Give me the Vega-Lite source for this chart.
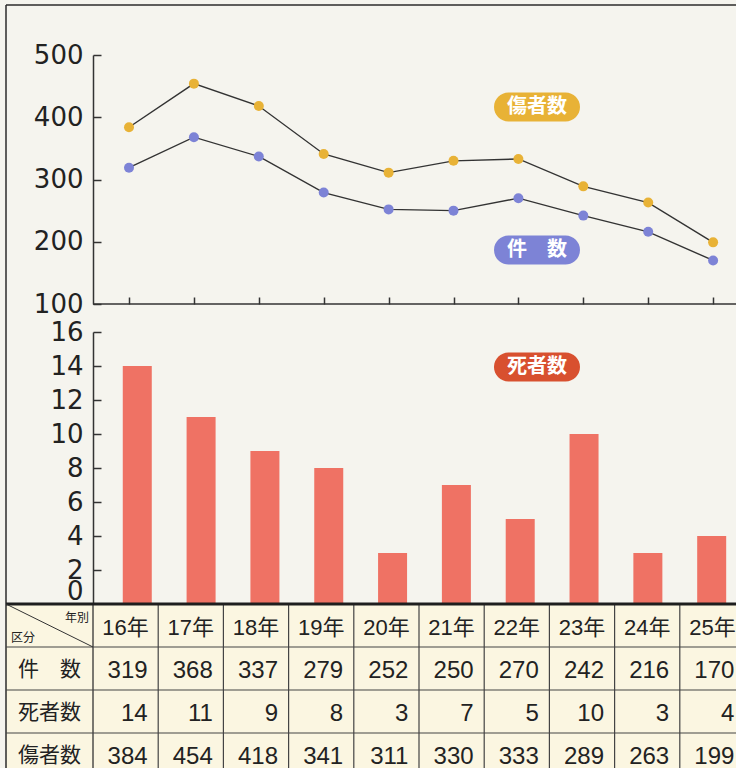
{
  "$schema": "https://vega.github.io/schema/vega-lite/v6.json",
  "background": "#F5F4EE",
  "padding": {"left": 4, "top": 4, "right": 0, "bottom": 0},
  "width": 739,
  "height": 771,
  "datasets": {
    "d": [
      {"yr": 16, "label": "16年", "cases": 319, "deaths": 14, "injured": 384},
      {"yr": 17, "label": "17年", "cases": 368, "deaths": 11, "injured": 454},
      {"yr": 18, "label": "18年", "cases": 337, "deaths": 9, "injured": 418},
      {"yr": 19, "label": "19年", "cases": 279, "deaths": 8, "injured": 341},
      {"yr": 20, "label": "20年", "cases": 252, "deaths": 3, "injured": 311},
      {"yr": 21, "label": "21年", "cases": 250, "deaths": 7, "injured": 330},
      {"yr": 22, "label": "22年", "cases": 270, "deaths": 5, "injured": 333},
      {"yr": 23, "label": "23年", "cases": 242, "deaths": 10, "injured": 289},
      {"yr": 24, "label": "24年", "cases": 216, "deaths": 3, "injured": 263},
      {"yr": 25, "label": "25年", "cases": 170, "deaths": 4, "injured": 199}
    ],
    "rows": [
      {"key": "cases", "name": "件　数", "r": 1},
      {"key": "deaths", "name": "死者数", "r": 2},
      {"key": "injured", "name": "傷者数", "r": 3}
    ]
  },
  "resolve": {"scale": {"x": "independent", "y": "independent"}},
  "layer": [
    {
      "data": {"values": [{}]},
      "mark": {"type": "rect", "color": "#FBF6E1"},
      "encoding": {
        "x": {"datum": 14.1656, "scale": {"domain": [14.1656, 25.5], "nice": false, "zero": false}, "axis": null},
        "x2": {"datum": 26},
        "y": {"datum": 0, "scale": {"domain": [0, 4], "range": [599, 771], "nice": false, "zero": false}, "axis": null},
        "y2": {"datum": 4.2}
      }
    },
    {
      "data": {"values": [{}]},
      "mark": {"type": "rule", "color": "#2b2b2b", "strokeWidth": 1.5},
      "encoding": {
        "x": {"datum": 14.1656, "scale": {"domain": [14.1656, 25.5], "nice": false, "zero": false}, "axis": null},
        "y": {"datum": -13.93, "scale": {"domain": [0, 4], "range": [599, 771], "nice": false, "zero": false}, "axis": null},
        "y2": {"datum": 4.2}
      }
    },
    {
      "data": {"values": [{}]},
      "mark": {"type": "rule", "color": "#2b2b2b", "strokeWidth": 1.5},
      "encoding": {
        "x": {"datum": 14.1656, "scale": {"domain": [14.1656, 25.5], "nice": false, "zero": false}, "axis": null},
        "x2": {"datum": 26},
        "y": {"datum": -13.93, "scale": {"domain": [0, 4], "range": [599, 771], "nice": false, "zero": false}, "axis": null}
      }
    },
    {
      "data": {"name": "d"},
      "transform": [{"fold": ["cases", "injured"], "as": ["key", "value"]}],
      "mark": {"type": "line", "color": "#333333", "strokeWidth": 1.4},
      "encoding": {
        "x": {
          "field": "yr", "type": "quantitative",
          "scale": {"domain": [14.1048, 25.4915], "nice": false, "zero": false},
          "axis": {"orient": "bottom", "offset": -472, "values": [16, 17, 18, 19, 20, 21, 22, 23, 24, 25], "labels": false, "domain": false, "tickSize": -7, "grid": false, "title": null}
        },
        "y": {
          "field": "value", "type": "quantitative",
          "scale": {"domain": [100, 500], "range": [299, 50], "nice": false, "zero": false},
          "axis": {"orient": "left", "offset": -87, "values": [100, 200, 300, 400, 500], "tickSize": -8, "labelPadding": 18, "labelFontSize": 26, "labelOverlap": false, "grid": false, "title": null}
        },
        "detail": {"field": "key", "type": "nominal"}
      }
    },
    {
      "data": {"values": [{}]},
      "mark": {"type": "rule", "color": "#333333", "strokeWidth": 1.5},
      "encoding": {
        "x": {"datum": 15.4453, "scale": {"domain": [14.1048, 25.4915], "nice": false, "zero": false}, "axis": null},
        "x2": {"datum": 26},
        "y": {"datum": 100, "scale": {"domain": [100, 500], "range": [299, 50], "nice": false, "zero": false}, "axis": null}
      }
    },
    {
      "data": {"name": "d"},
      "transform": [{"fold": ["cases", "injured"], "as": ["key", "value"]}],
      "mark": {"type": "point", "filled": true, "size": 100, "opacity": 1},
      "encoding": {
        "x": {"field": "yr", "type": "quantitative", "scale": {"domain": [14.1048, 25.4915], "nice": false, "zero": false}, "axis": null},
        "y": {"field": "value", "type": "quantitative", "scale": {"domain": [100, 500], "range": [299, 50], "nice": false, "zero": false}, "axis": null},
        "color": {"field": "key", "type": "nominal", "scale": {"domain": ["cases", "injured"], "range": ["#7D83D6", "#E8B236"]}, "legend": null}
      }
    },
    {
      "data": {"values": [{}]},
      "mark": {"type": "point", "shape": "M -0.663 -0.337 L 0.663 -0.337 A 0.337 0.337 0 0 1 0.663 0.337 L -0.663 0.337 A 0.337 0.337 0 0 1 -0.663 -0.337 Z", "size": 7396, "filled": true, "opacity": 1, "color": "#E8B236"},
      "encoding": {
        "x": {"datum": 22.2866, "scale": {"domain": [14.1048, 25.4915], "nice": false, "zero": false}, "axis": null},
        "y": {"datum": 416.5, "scale": {"domain": [100, 500], "range": [299, 50], "nice": false, "zero": false}, "axis": null}
      }
    },
    {
      "data": {"values": [{}]},
      "mark": {"type": "text", "text": "傷者数", "font": "Noto Sans CJK JP", "fontSize": 20, "fontWeight": "bold", "color": "#FFFFFF", "align": "center", "baseline": "middle"},
      "encoding": {
        "x": {"datum": 22.2866, "scale": {"domain": [14.1048, 25.4915], "nice": false, "zero": false}, "axis": null},
        "y": {"datum": 416.5, "scale": {"domain": [100, 500], "range": [299, 50], "nice": false, "zero": false}, "axis": null}
      }
    },
    {
      "data": {"values": [{}]},
      "mark": {"type": "point", "shape": "M -0.663 -0.337 L 0.663 -0.337 A 0.337 0.337 0 0 1 0.663 0.337 L -0.663 0.337 A 0.337 0.337 0 0 1 -0.663 -0.337 Z", "size": 7396, "filled": true, "opacity": 1, "color": "#7D83D6"},
      "encoding": {
        "x": {"datum": 22.2866, "scale": {"domain": [14.1048, 25.4915], "nice": false, "zero": false}, "axis": null},
        "y": {"datum": 186.7, "scale": {"domain": [100, 500], "range": [299, 50], "nice": false, "zero": false}, "axis": null}
      }
    },
    {
      "data": {"values": [{}]},
      "mark": {"type": "text", "text": "件　数", "font": "Noto Sans CJK JP", "fontSize": 20, "fontWeight": "bold", "color": "#FFFFFF", "align": "center", "baseline": "middle"},
      "encoding": {
        "x": {"datum": 22.2866, "scale": {"domain": [14.1048, 25.4915], "nice": false, "zero": false}, "axis": null},
        "y": {"datum": 186.7, "scale": {"domain": [100, 500], "range": [299, 50], "nice": false, "zero": false}, "axis": null}
      }
    },
    {
      "data": {"name": "d"},
      "mark": {"type": "bar", "size": 29, "color": "#EF7264", "orient": "vertical"},
      "encoding": {
        "x": {"field": "yr", "type": "quantitative", "scale": {"domain": [14.0216, 25.4436], "nice": false, "zero": false}, "axis": null},
        "y": {
          "field": "deaths", "type": "quantitative",
          "scale": {"domain": [0, 16], "range": [599, 327], "nice": false},
          "axis": {"orient": "left", "offset": -87, "values": [0, 2, 4, 6, 8, 10, 12, 14, 16], "tickSize": -8, "labelPadding": 18, "labelFontSize": 26, "labelOverlap": false, "labelBaseline": {"condition": {"test": "datum.value == 0", "value": "bottom"}, "value": "middle"}, "grid": false, "title": null}
        }
      }
    },
    {
      "data": {"values": [{}]},
      "mark": {"type": "point", "shape": "M -0.663 -0.337 L 0.663 -0.337 A 0.337 0.337 0 0 1 0.663 0.337 L -0.663 0.337 A 0.337 0.337 0 0 1 -0.663 -0.337 Z", "size": 7396, "filled": true, "opacity": 1, "color": "#D8502F"},
      "encoding": {
        "x": {"datum": 22.2287, "scale": {"domain": [14.0216, 25.4436], "nice": false, "zero": false}, "axis": null},
        "y": {"datum": 13.94, "scale": {"domain": [0, 16], "range": [599, 327], "nice": false}, "axis": null}
      }
    },
    {
      "data": {"values": [{}]},
      "mark": {"type": "text", "text": "死者数", "font": "Noto Sans CJK JP", "fontSize": 20, "fontWeight": "bold", "color": "#FFFFFF", "align": "center", "baseline": "middle"},
      "encoding": {
        "x": {"datum": 22.2287, "scale": {"domain": [14.0216, 25.4436], "nice": false, "zero": false}, "axis": null},
        "y": {"datum": 13.94, "scale": {"domain": [0, 16], "range": [599, 327], "nice": false}, "axis": null}
      }
    },
    {
      "data": {"name": "d"},
      "mark": {"type": "rule", "color": "#444444", "strokeWidth": 1.2, "xOffset": 32.6},
      "encoding": {
        "x": {"field": "yr", "type": "quantitative", "scale": {"domain": [14.1656, 25.5], "nice": false, "zero": false}, "axis": null},
        "y": {"datum": 0, "scale": {"domain": [0, 4], "range": [599, 771], "nice": false, "zero": false}, "axis": null},
        "y2": {"datum": 4.2}
      }
    },
    {
      "data": {"values": [{}]},
      "mark": {"type": "rule", "color": "#333333", "strokeWidth": 1.3},
      "encoding": {
        "x": {"datum": 15.5, "scale": {"domain": [14.1656, 25.5], "nice": false, "zero": false}, "axis": null},
        "y": {"datum": 0, "scale": {"domain": [0, 4], "range": [599, 771], "nice": false, "zero": false}, "axis": null},
        "y2": {"datum": 4.2}
      }
    },
    {
      "data": {"name": "rows"},
      "mark": {"type": "rule", "color": "#444444", "strokeWidth": 1.2},
      "encoding": {
        "x": {"datum": 14.1656, "scale": {"domain": [14.1656, 25.5], "nice": false, "zero": false}, "axis": null},
        "x2": {"datum": 26},
        "y": {"field": "r", "type": "quantitative", "scale": {"domain": [0, 4], "range": [599, 771], "nice": false, "zero": false}, "axis": null}
      }
    },
    {
      "data": {"values": [{}]},
      "mark": {"type": "rule", "color": "#1e1e1e", "strokeWidth": 3},
      "encoding": {
        "x": {"datum": 14.1656, "scale": {"domain": [14.1656, 25.5], "nice": false, "zero": false}, "axis": null},
        "x2": {"datum": 26},
        "y": {"datum": 0, "scale": {"domain": [0, 4], "range": [599, 771], "nice": false, "zero": false}, "axis": null}
      }
    },
    {
      "data": {"values": [{}]},
      "mark": {"type": "rule", "color": "#333333", "strokeWidth": 1},
      "encoding": {
        "x": {"datum": 14.1656, "scale": {"domain": [14.1656, 25.5], "nice": false, "zero": false}, "axis": null},
        "x2": {"datum": 15.5},
        "y": {"datum": 0, "scale": {"domain": [0, 4], "range": [599, 771], "nice": false, "zero": false}, "axis": null},
        "y2": {"datum": 1}
      }
    },
    {
      "data": {"name": "d"},
      "transform": [
        {"fold": ["cases", "deaths", "injured"], "as": ["key", "value"]},
        {"lookup": "key", "from": {"data": {"name": "rows"}, "key": "key", "fields": ["r"]}}
      ],
      "mark": {"type": "text", "align": "right", "baseline": "middle", "dx": 22, "dy": 24, "font": "Liberation Sans", "fontSize": 24, "color": "#222222"},
      "encoding": {
        "x": {"field": "yr", "type": "quantitative", "scale": {"domain": [14.1656, 25.5], "nice": false, "zero": false}, "axis": null},
        "y": {"field": "r", "type": "quantitative", "scale": {"domain": [0, 4], "range": [599, 771], "nice": false, "zero": false}, "axis": null},
        "text": {"field": "value", "type": "quantitative"}
      }
    },
    {
      "data": {"name": "d"},
      "mark": {"type": "text", "align": "center", "baseline": "middle", "dy": 24, "font": "Liberation Sans, Noto Sans CJK JP", "fontSize": 22, "color": "#222222"},
      "encoding": {
        "x": {"field": "yr", "type": "quantitative", "scale": {"domain": [14.1656, 25.5], "nice": false, "zero": false}, "axis": null},
        "y": {"datum": 0, "scale": {"domain": [0, 4], "range": [599, 771], "nice": false, "zero": false}, "axis": null},
        "text": {"field": "label", "type": "nominal"}
      }
    },
    {
      "data": {"name": "rows"},
      "mark": {"type": "text", "align": "center", "baseline": "middle", "dy": 23, "font": "Noto Sans CJK JP", "fontSize": 21, "color": "#222222"},
      "encoding": {
        "x": {"datum": 14.8328, "scale": {"domain": [14.1656, 25.5], "nice": false, "zero": false}, "axis": null},
        "y": {"field": "r", "type": "quantitative", "scale": {"domain": [0, 4], "range": [599, 771], "nice": false, "zero": false}, "axis": null},
        "text": {"field": "name", "type": "nominal"}
      }
    },
    {
      "data": {"values": [{}]},
      "mark": {"type": "text", "text": "年別", "align": "right", "baseline": "middle", "dx": -4, "dy": 14, "font": "Noto Sans CJK JP", "fontSize": 12, "color": "#222222"},
      "encoding": {
        "x": {"datum": 15.5, "scale": {"domain": [14.1656, 25.5], "nice": false, "zero": false}, "axis": null},
        "y": {"datum": 0, "scale": {"domain": [0, 4], "range": [599, 771], "nice": false, "zero": false}, "axis": null}
      }
    },
    {
      "data": {"values": [{}]},
      "mark": {"type": "text", "text": "区分", "align": "left", "baseline": "middle", "dx": 5, "dy": 34, "font": "Noto Sans CJK JP", "fontSize": 12, "color": "#222222"},
      "encoding": {
        "x": {"datum": 14.1656, "scale": {"domain": [14.1656, 25.5], "nice": false, "zero": false}, "axis": null},
        "y": {"datum": 0, "scale": {"domain": [0, 4], "range": [599, 771], "nice": false, "zero": false}, "axis": null}
      }
    }
  ],
  "config": {
    "view": {"stroke": null},
    "axis": {"labelFont": "DejaVu Sans", "labelColor": "#222222", "domainColor": "#333333", "tickColor": "#333333", "domainWidth": 1.5, "tickWidth": 1.5}
  }
}
